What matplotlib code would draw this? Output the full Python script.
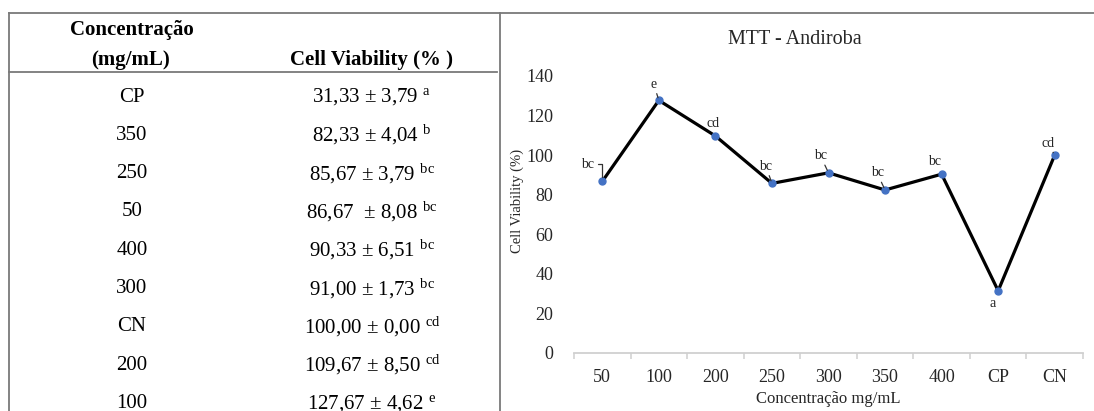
import matplotlib
matplotlib.use("Agg")
import matplotlib.pyplot as plt
from matplotlib.lines import Line2D

# ---------------- data ----------------
categories = ['50', '100', '200', '250', '300', '350', '400', 'CP', 'CN']
viability = [86.67, 127.67, 109.67, 85.67, 91.00, 82.33, 90.33, 31.33, 100.00]
letters = ['bc', 'e', 'cd', 'bc', 'bc', 'bc', 'bc', 'a', 'cd']
y_ticks = [0, 20, 40, 60, 80, 100, 120, 140]

table_conc = ['CP', '350', '250', '50', '400', '300', 'CN', '200', '100']
table_mean = ['31,33', '82,33', '85,67', '86,67 ', '90,33', '91,00', '100,00', '109,67', '127,67']
table_sd = ['3,79', '4,04', '3,79', '8,08', '6,51', '1,73', '0,00', '8,50', '4,62']
table_letters = ['a', 'b', 'bc', 'bc', 'bc', 'bc', 'cd', 'cd', 'e']

title = 'MTT - Andiroba'
xlabel = 'Concentração mg/mL'
ylabel = 'Cell Viability (%)'
head_col1 = ['Concentração', '(mg/mL)']
head_col2 = 'Cell Viability (% )'

# ---------------- style ----------------
plt.rcParams['font.family'] = ['Liberation Serif', 'DejaVu Serif']
plt.rcParams['mathtext.fontset'] = 'custom'
plt.rcParams['mathtext.rm'] = 'Liberation Serif'
plt.rcParams['mathtext.it'] = 'Liberation Serif:italic'
plt.rcParams['mathtext.bf'] = 'Liberation Serif:bold'

W, H = 1094, 411
fig = plt.figure(figsize=(W / 100, H / 100), dpi=100)
fig.patch.set_facecolor('white')


def fx(x):
    return x / W


def fy(y):
    return 1 - y / H


border = '#7a7a7a'
# frame lines (table + chart panel)
fig.add_artist(Line2D([fx(9), fx(1094)], [fy(13), fy(13)], color=border, lw=1.3))
fig.add_artist(Line2D([fx(9), fx(9)], [fy(13), fy(411)], color=border, lw=1.3))
fig.add_artist(Line2D([fx(500), fx(500)], [fy(13), fy(411)], color=border, lw=1.3))
fig.add_artist(Line2D([fx(9), fx(497)], [fy(72), fy(72)], color=border, lw=1.3))

# ---------------- table ----------------
fig.text(fx(132), fy(30), head_col1[0], ha='center', va='center', fontsize=15, fontweight='bold')
fig.text(fx(130), fy(60), head_col1[1], ha='center', va='center', fontsize=15, fontweight='bold')
fig.text(fx(372), fy(60), head_col2, ha='center', va='center', fontsize=15, fontweight='bold')

row_y0, row_dy = 97, 38.3
for i, (c, m, s, l) in enumerate(zip(table_conc, table_mean, table_sd, table_letters)):
    yy = row_y0 + i * row_dy
    fig.text(fx(132), fy(yy), c, ha='center', va='center', fontsize=15)
    fig.text(fx(372), fy(yy), f"{m} ± {s} $^{{\\mathrm{{{l}}}}}$",
             ha='center', va='center', fontsize=15)

# ---------------- chart ----------------
ax_left, ax_right, ax_top, ax_bottom = 574, 1083, 76, 352.7
ax = fig.add_axes([fx(ax_left), fy(ax_bottom), (ax_right - ax_left) / W, (ax_bottom - ax_top) / H])
x = list(range(len(categories)))
ax.plot(x, viability, color='black', lw=2.3, marker='o', markersize=5,
        markerfacecolor='#4472C4', markeredgecolor='#4472C4', zorder=3)

ax.set_xlim(-0.5, len(categories) - 0.5)
ax.set_ylim(0, 140)
ax.set_yticks(y_ticks)
ax.set_xticks(x)
ax.set_xticklabels(categories)
ax.set_xticks([i - 0.5 for i in range(len(categories) + 1)], minor=True)
ax.tick_params(axis='x', which='major', length=0, pad=12, labelsize=13, labelcolor='#262626')
ax.tick_params(axis='x', which='minor', length=4, width=1.1, color='#d0d0d0', direction='out')
ax.tick_params(axis='y', length=0, pad=15, labelsize=13, labelcolor='#262626')
for sp in ['top', 'right', 'left']:
    ax.spines[sp].set_visible(False)
ax.spines['bottom'].set_color('#d0d0d0')
ax.spines['bottom'].set_linewidth(1.3)

ax.set_xlabel(xlabel, fontsize=12, color='#262626', labelpad=3)
fig.text(fx(517), fy(201), ylabel, rotation=90, ha='center', va='center', fontsize=10.5, color='#262626')
fig.text(fx(795), fy(40), title, ha='center', va='center', fontsize=14.5, color='#262626')

# data labels (offsets in pixels) and leader lines
label_offsets = [(-15, 17), (-5, 16), (-2, 12), (-6, 17), (-8, 17), (-8, 17), (-7, 13), (-6, -13), (-7, 12)]
leader = ['angle', 'line', None, 'line', 'line', 'line', None, None, 'line']
for i, (v, lab) in enumerate(zip(viability, letters)):
    dx, dy = label_offsets[i]
    kw = {}
    if leader[i] == 'angle':
        kw['arrowprops'] = dict(arrowstyle='-', color='#333333', lw=0.9, shrinkA=1, shrinkB=3,
                                connectionstyle='angle,angleA=0,angleB=90,rad=0')
    elif leader[i] == 'line':
        kw['arrowprops'] = dict(arrowstyle='-', color='#333333', lw=0.9, shrinkA=0, shrinkB=2)
    ax.annotate(lab, xy=(i, v), xytext=(dx, dy), textcoords='offset pixels',
                ha='center', va='center', fontsize=10, color='#262626', **kw)

fig.savefig('out.png', dpi=100)
